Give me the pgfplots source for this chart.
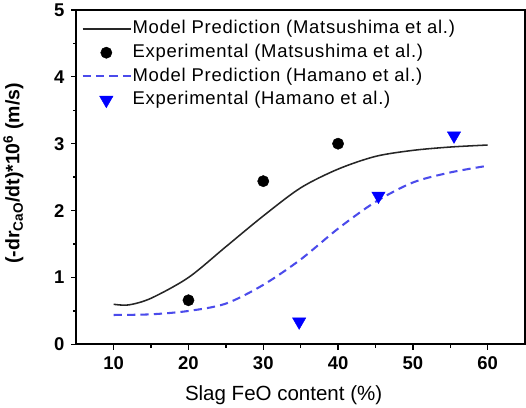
\documentclass[border=0pt]{standalone}
\usepackage{pgfplots}
\pgfplotsset{compat=1.18}
\usepackage{fontspec}
\setmainfont{Liberation Sans}
\newfontfamily\legfont[LetterSpace=4]{Liberation Sans}
\definecolor{dashblue}{RGB}{75,75,235}
\pgfplotsset{
  lineleg/.style={legend image code/.code={\draw[##1] (0bp,0bp) -- (47bp,0bp);}},
  markleg/.style={legend image code/.code={\draw[##1] plot coordinates {(23bp,0bp)};}},
}

\begin{document}
\begin{tikzpicture}
\begin{axis}[
    width=436bp, height=325bp,
    scale only axis,
    xmin=5, xmax=65, ymin=0, ymax=5,
    xtick={10,20,...,60}, ytick={0,1,...,5},
    minor x tick num=1, minor y tick num=1,
    tick align=outside,
    major tick length=5bp, minor tick length=3bp,
    xtick pos=bottom, ytick pos=left,
    tick style={line width=1.3bp, black},
    axis line style={line width=1.8bp},
    /pgf/number format/assume math mode=true,
    tick label style={font=\fontsize{18}{20}\selectfont\bfseries},
    xticklabel style={yshift=-3bp},
    yticklabel style={xshift=-3bp},
    xlabel={Slag FeO content (\%)},
    ylabel={\textbf{(-dr$_{\mathbf{CaO}}$/dt)*10$^{\mathbf{6}}$ (m/s)}},
    xlabel style={font=\fontsize{20}{22}\selectfont, at={(axis description cs:0.462,-0.151)}, anchor=center},
    ylabel style={font=\fontsize{19}{21}\selectfont, at={(axis description cs:-0.14,0.511)}, anchor=center, rotate=0},
    legend style={at={(axis description cs:0.0115,0.971)}, anchor=north west, draw=none, fill=none,
        inner sep=0pt, font=\legfont\fontsize{18}{20}\selectfont, row sep=5bp,
        nodes={inner sep=0.5bp, text height=13bp, text depth=4bp},
        /tikz/every even column/.append style={column sep=1bp}},
    legend cell align=left,
]
\path (axis description cs:-0.2018,-0.203) rectangle (axis description cs:1.0046,1.052);
\addplot[black!85, line width=1.5bp, smooth, mark=none, lineleg]
  coordinates {(10,0.60) (12,0.59) (15,0.69) (20,1.00) (25,1.46) (30,1.92)
               (35,2.34) (40,2.62) (45,2.81) (50,2.90) (55,2.95) (60,2.98)};
\addlegendentry{Model Prediction (Matsushima et al.)}
\addplot[only marks, mark=*, mark size=5.5bp, black, markleg]
  coordinates {(20,0.66) (30,2.44) (40,3.00)};
\addlegendentry{Experimental (Matsushima et al.)}
\addplot[dashblue, line width=2bp, dash pattern=on 8bp off 5bp, smooth, mark=none, lineleg]
  coordinates {(10,0.44) (15,0.45) (20,0.50) (25,0.61) (30,0.89) (35,1.27)
               (40,1.73) (45,2.13) (50,2.42) (55,2.57) (60,2.67)};
\addlegendentry{Model Prediction (Hamano et al.)}
\addplot[only marks, mark=triangle*, mark size=7.5bp, mark options={rotate=180}, blue, markleg]
  coordinates {(34.8,0.34) (45.4,2.22) (55.5,3.12)};
\addlegendentry{Experimental (Hamano et al.)}
\end{axis}
\end{tikzpicture}
\end{document}
